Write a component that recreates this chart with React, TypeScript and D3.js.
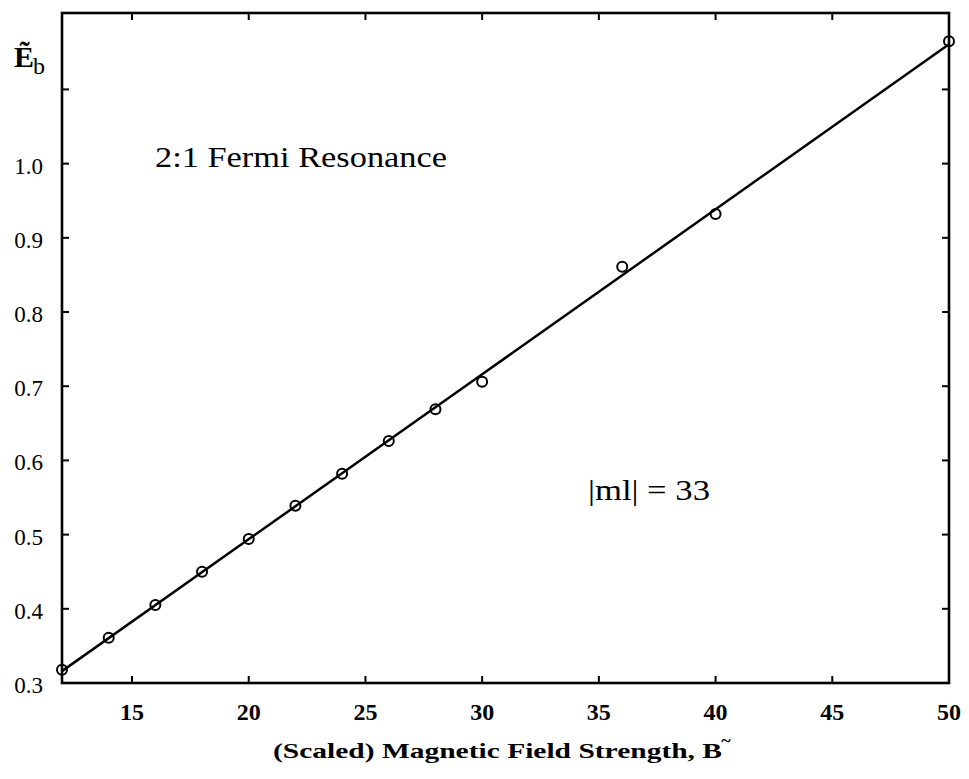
import React from "react";
import * as d3 from "d3";

const bValues = [12, 14, 16, 18, 20, 22, 24, 26, 28, 30, 36, 40, 50];
const ebValues = [0.318, 0.361, 0.405, 0.450, 0.494, 0.539, 0.582, 0.626, 0.669, 0.706, 0.861, 0.932, 1.165];
const fitB = [12, 30, 50];
const fitEb = [0.316, 0.716, 1.161];
const xTicks = [15, 20, 25, 30, 35, 40, 45, 50];
const yTicks = [0.3, 0.4, 0.5, 0.6, 0.7, 0.8, 0.9, 1.0, 1.1];
const yTickLabels = ["0.3", "0.4", "0.5", "0.6", "0.7", "0.8", "0.9", "1.0", ""];

const W = 969, H = 779;
const L = 62, R = 949, T = 13, B = 683;

export default function App() {
  const x = d3.scaleLinear().domain([12, 50]).range([L, R]);
  const y = d3.scaleLinear().domain([0.3, 1.203]).range([B, T]);
  const line = d3.line<number>().x((d, i) => x(fitB[i])).y((d) => y(d));
  const font = "'Times New Roman', Times, 'Liberation Serif', 'DejaVu Serif Condensed', 'DejaVu Serif', serif";
  const tl = 7;
  return (
    <svg width={W} height={H} style={{ position: "absolute", left: 0, top: 0, background: "#fff" }}>
      <rect x={L} y={T} width={R - L} height={B - T} fill="none" stroke="#000" strokeWidth={2.6} />
      {xTicks.map((t) => (
        <g key={"x" + t}>
          <line x1={x(t)} x2={x(t)} y1={B} y2={B - tl} stroke="#000" strokeWidth={2} />
          <line x1={x(t)} x2={x(t)} y1={T} y2={T + tl} stroke="#000" strokeWidth={2} />
          <text x={x(t)} y={720} textAnchor="middle" fontFamily={font} fontSize={24} fontWeight="bold">{t}</text>
        </g>
      ))}
      {yTicks.map((t, i) => (
        <g key={"y" + t}>
          <line x1={L} x2={L + tl} y1={y(t)} y2={y(t)} stroke="#000" strokeWidth={2} />
          <line x1={R} x2={R - tl} y1={y(t)} y2={y(t)} stroke="#000" strokeWidth={2} />
          <text x={43} y={y(t) + 10} textAnchor="end" fontFamily={font} fontSize={23}>{yTickLabels[i]}</text>
        </g>
      ))}
      <path d={line(fitEb) || ""} fill="none" stroke="#000" strokeWidth={2.5} />
      {bValues.map((b, i) => (
        <circle key={"p" + i} cx={x(b)} cy={y(ebValues[i])} r={5} fill="none" stroke="#000" strokeWidth={2} />
      ))}
      <text x={155} y={167} fontFamily={font} fontSize={29} textLength={292} lengthAdjust="spacingAndGlyphs">2:1 Fermi Resonance</text>
      <text x={588} y={500} fontFamily={font} fontSize={29} textLength={122} lengthAdjust="spacingAndGlyphs">|ml| = 33</text>
      <text x={14} y={67} fontFamily={font} fontSize={30} fontWeight="bold">Ẽ</text>
      <text x={33} y={74} fontFamily={font} fontSize={24}>b</text>
      <text x={273} y={758} fontFamily={font} fontSize={22} fontWeight="bold" textLength={449} lengthAdjust="spacingAndGlyphs">
        (Scaled) Magnetic Field Strength, B
      </text>
      <text x={726} y={747} textAnchor="middle" fontFamily={font} fontSize={18} fontWeight="bold">~</text>
    </svg>
  );
}
